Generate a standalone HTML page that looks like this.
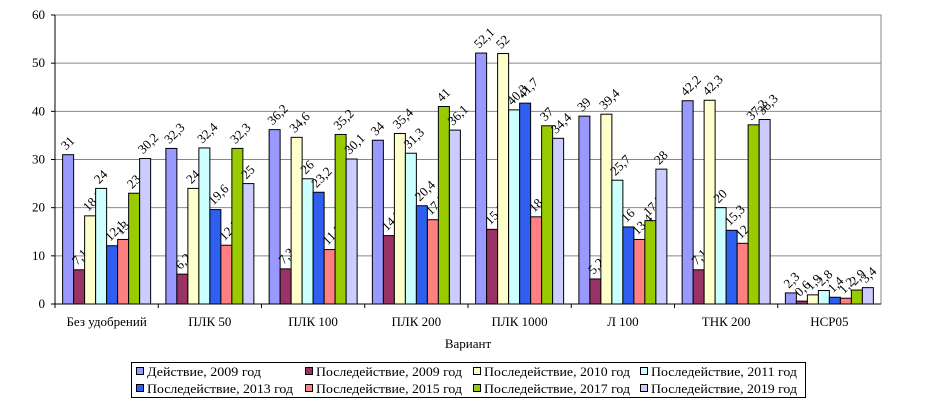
<!DOCTYPE html>
<html><head><meta charset="utf-8"><style>
body{margin:0;background:#fff;}
svg{display:block;}
svg text{font-family:"Liberation Serif","DejaVu Serif",serif;}
</style></head><body>
<svg id="chart" width="932" height="405"></svg>
<script>
const categories=["Без удобрений","ПЛК 50","ПЛК 100","ПЛК 200","ПЛК 1000","Л 100","ТНК 200","НСР05"];
const seriesNames=["Действие, 2009 год","Последействие, 2009 год","Последействие, 2010 год","Последействие, 2011 год","Последействие, 2013 год","Последействие, 2015 год","Последействие, 2017 год","Последействие, 2019 год"];
const s2009a=[31,32.3,36.2,34,52.1,39,42.2,2.3];
const s2009=[7.1,6.2,7.3,14.2,15.5,5.2,7.1,0.6];
const s2010=[18.3,24,34.6,35.4,52,39.4,42.3,1.9];
const s2011=[24,32.4,26,31.3,40.3,25.7,20,2.8];
const s2013=[12.1,19.6,23.2,20.4,41.7,16,15.3,1.4];
const s2015=[13.4,12.2,11.3,17.5,18.1,13.4,12.6,1.2];
const s2017=[23,32.3,35.2,41,37,17.3,37.2,2.9];
const s2019=[30.2,25,30.1,36.1,34.4,28,38.3,3.4];
const yTicks=[0,10,20,30,40,50,60];
const series=[s2009a,s2009,s2010,s2011,s2013,s2015,s2017,s2019];
const colors=["#9999ff","#993366","#ffffcc","#ccffff","#2f5ff0","#ff8080","#99cc00","#ccccff"];
const NS="http://www.w3.org/2000/svg";
const svg=document.getElementById('chart');
const L=55,R=881,T=15,B=304;
const y=v=>B-(v/60)*(B-T);
const gw=(R-L)/categories.length;
const bw=11;
const x=(g,s)=>L+g*gw+(gw-bw*8)/2+s*bw;
function mk(t,a,p){const e=document.createElementNS(NS,t);for(const k in a)e.setAttribute(k,a[k]);(p||svg).appendChild(e);return e;}
const frame=mk('rect',{x:L,y:T,width:R-L,height:B-T,fill:'none',stroke:'#888'});


yTicks.forEach(t=>{
  const gl=mk('line',{x1:L,x2:R,y1:y(t),y2:y(t),stroke:'#888'});
  
  
  const tk=mk('line',{x1:L-4,x2:L,y1:y(t),y2:y(t),stroke:'#000'});
  
  
  const lb=mk('text',{x:L-10,y:y(t)+4,'text-anchor':'end','font-size':13});
  lb.textContent=t;
  
  
});
const ax=mk('line',{x1:L,x2:L,y1:T,y2:B,stroke:'#000'});


const xa=mk('line',{x1:L,x2:R,y1:B,y2:B,stroke:'#000'});


categories.forEach((c,g)=>{
  const tk=mk('line',{x1:L+g*gw,x2:L+g*gw,y1:B,y2:B+4,stroke:'#000'});
  
  
  const lb=mk('text',{x:L+g*gw+gw/2,y:B+22,'text-anchor':'middle','font-size':13});
  lb.textContent=c;
  
  
});
const xt=mk('text',{x:(L+R)/2,y:348,'text-anchor':'middle','font-size':13});
xt.textContent='Вариант';


series.forEach((arr,s)=>{
  arr.forEach((v,g)=>{
    const bx=x(g,s),by=y(v);
    const r=mk('rect',{x:bx,y:by,width:bw,height:B-by,fill:colors[s],stroke:'#000','stroke-width':1});
    
    
    const lx=bx+bw/2-2,ly=by-4;
    const t=mk('text',{x:lx,y:ly,'font-size':13,transform:`rotate(-45 ${lx} ${ly})`});
    t.textContent=String(v).replace('.',',');
    
    
  });
});
const lg=mk('rect',{x:131.5,y:362.5,width:674,height:35,fill:'#fff',stroke:'#000'});


const colX=[136,305,473,640];
seriesNames.forEach((n,i)=>{
  const cx=colX[i%4],cy=i<4?372:389;
  const sw=mk('rect',{x:cx+0.5,y:cy-4.5,width:7,height:7,fill:colors[i],stroke:'#000'});
  
  
  const t=mk('text',{x:cx+11,y:cy+4,'font-size':13,textLength:n.length<20?114:146,lengthAdjust:'spacingAndGlyphs'});
  t.textContent=n;
  
  
});
</script>
</body></html>
